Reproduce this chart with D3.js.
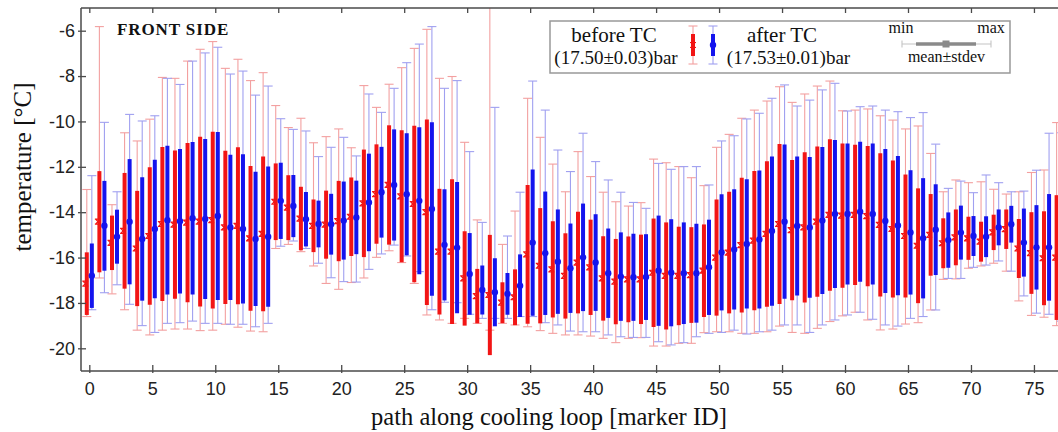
<!DOCTYPE html>
<html>
<head>
<meta charset="utf-8">
<script src="https://cdn.jsdelivr.net/npm/d3@7"></script>
<style>
  html, body { margin: 0; padding: 0; background: #fff; }
  svg { display: block; }
</style>
</head>
<body>
<svg id="chart" width="1058" height="432"></svg>
<script>
// ---------------- data ----------------
const markerIds = [0,1,2,3,4,5,6,7,8,9,10,11,12,13,14,15,16,17,18,19,20,21,22,23,24,25,26,27,28,29,30,31,32,33,34,35,36,37,38,39,40,41,42,43,44,45,46,47,48,49,50,51,52,53,54,55,56,57,58,59,60,61,62,63,64,65,66,67,68,69,70,71,72,73,74,75,76,77];

// before TC (red)
const beforeMean = [-17.15,-14.42,-15.35,-14.82,-15.6,-15.05,-14.52,-14.55,-14.46,-14.42,-14.35,-14.67,-14.6,-15.15,-14.96,-13.54,-13.8,-14.28,-14.6,-14.55,-14.39,-14.2,-13.61,-13.2,-12.8,-13.3,-13.64,-14.0,-15.74,-15.74,-16.92,-17.7,-17.65,-17.99,-17.75,-15.86,-16.36,-16.52,-16.81,-16.22,-16.43,-16.92,-17.06,-16.96,-16.96,-16.67,-16.81,-16.81,-16.77,-16.58,-16.0,-15.78,-15.45,-15.25,-14.96,-14.52,-14.79,-14.67,-14.42,-14.12,-14.15,-14.12,-14.17,-14.56,-14.74,-15.05,-15.48,-15.0,-15.37,-15.11,-15.15,-15.3,-14.89,-14.75,-15.6,-15.8,-16.03,-16.0];
const beforeStd = [1.38,2.23,1.2,2.55,2.54,3.03,3.39,3.27,3.51,3.74,3.9,3.38,3.46,3.19,3.41,1.69,1.43,1.4,1.16,1.5,1.77,1.73,2.37,2.19,2.63,2.91,3.45,4.09,2.77,3.19,2.08,1.2,2.65,0.9,1.23,3.06,2.54,2.12,1.88,2.24,2.1,1.86,1.88,1.89,1.97,2.39,2.36,2.17,2.11,2.04,2.56,2.68,2.97,3.07,3.21,3.53,3.09,3.31,3.31,3.34,3.18,3.09,3.09,3.16,3.02,2.71,2.53,1.8,1.1,1.23,0.95,0.88,0.78,0.87,1.3,1.8,2.07,2.75];
const beforeMin = [-18.6,-16.9,-17.6,-18.3,-19.2,-19.41,-19.2,-19.15,-19.15,-19.22,-19.2,-18.94,-19.07,-19.24,-19.27,-15.6,-15.42,-15.74,-16.37,-17.14,-17.4,-17.1,-16.9,-15.99,-15.7,-16.22,-17.14,-18.53,-18.75,-18.9,-18.68,-18.9,-19.2,-18.9,-18.97,-19.05,-19.22,-19.34,-19.41,-19.41,-19.46,-19.56,-19.75,-19.56,-19.53,-19.9,-19.9,-19.78,-19.78,-19.31,-19.27,-19.27,-19.34,-19.34,-19.27,-19.02,-19.3,-19.34,-19.12,-18.82,-18.57,-18.41,-18.75,-19.19,-19.15,-18.93,-18.87,-18.31,-16.96,-16.94,-16.47,-16.37,-16.25,-16.6,-17.91,-18.55,-18.63,-19.0];
const beforeMax = [-13.0,-5.82,-13.67,-10.5,-10.86,-9.9,-8.06,-8.1,-7.34,-6.82,-6.48,-7.66,-7.26,-8.2,-7.85,-9.3,-10.27,-9.86,-10.94,-10.67,-10.33,-11.16,-8.42,-9.38,-8.36,-7.63,-6.78,-5.94,-8.1,-8.02,-10.92,-14.34,-4.5,-15.42,-13.95,-8.98,-10.7,-11.88,-13.1,-11.33,-12.43,-13.12,-13.54,-13.73,-13.58,-11.66,-11.82,-11.99,-12.48,-12.83,-11.14,-10.57,-9.86,-9.5,-9.1,-8.47,-9.16,-8.79,-8.44,-8.22,-9.53,-9.5,-9.45,-9.75,-9.94,-10.33,-10.2,-11.41,-13.1,-12.58,-12.7,-12.66,-12.99,-13.2,-13.1,-12.25,-12.14,-10.05];

// after TC (blue)
const afterMean = [-16.8,-14.6,-15.08,-14.42,-15.18,-14.74,-14.35,-14.4,-14.27,-14.3,-14.17,-14.67,-14.74,-15.18,-15.08,-13.5,-13.73,-14.31,-14.52,-14.53,-14.37,-14.23,-13.57,-13.12,-12.8,-13.21,-13.5,-13.86,-15.44,-15.56,-16.72,-17.43,-17.53,-17.6,-17.24,-15.34,-15.81,-16.18,-16.47,-15.99,-16.22,-16.69,-16.84,-16.87,-16.86,-16.58,-16.67,-16.69,-16.69,-16.43,-15.77,-15.64,-15.4,-15.2,-14.83,-14.42,-14.61,-14.67,-14.37,-14.08,-14.08,-13.98,-14.08,-14.39,-14.59,-14.89,-15.15,-14.77,-15.23,-14.9,-15.05,-15.08,-14.67,-14.53,-15.34,-15.55,-15.55,-15.8];
const afterStd = [1.42,1.98,1.19,2.76,2.72,3.05,3.28,3.18,3.36,3.53,3.7,3.2,3.29,2.96,3.09,1.68,1.37,1.2,1.03,1.34,1.72,1.62,2.15,2.0,2.45,2.69,3.24,3.82,2.45,2.89,1.8,1.08,1.5,0.92,1.38,3.22,2.72,2.3,1.97,2.37,2.13,1.97,1.95,1.92,1.89,2.43,2.36,2.24,2.18,2.1,2.56,2.65,2.85,3.04,3.29,3.4,3.06,3.1,3.24,3.26,3.11,3.09,3.11,3.17,3.07,2.74,2.65,2.0,1.22,1.19,0.88,0.9,0.79,0.81,1.5,1.86,2.35,2.75];
const afterMin = [-18.3,-17.55,-17.2,-18.06,-19.0,-19.3,-18.9,-18.87,-18.8,-18.9,-18.9,-18.94,-18.94,-19.05,-18.9,-15.5,-15.27,-15.6,-16.25,-16.89,-17.06,-17.08,-16.52,-15.84,-15.45,-15.93,-16.62,-18.3,-17.97,-17.99,-18.5,-18.68,-18.68,-18.68,-18.6,-18.6,-18.87,-18.97,-19.24,-19.27,-19.27,-19.41,-19.49,-19.52,-19.52,-19.71,-19.85,-19.75,-19.49,-19.34,-19.3,-19.2,-19.37,-19.27,-19.2,-18.97,-18.97,-19.3,-18.97,-18.75,-18.53,-18.41,-18.72,-18.97,-19.02,-18.68,-18.6,-18.31,-16.92,-16.92,-16.43,-16.33,-16.15,-16.6,-17.69,-18.45,-18.5,-18.8];
const afterMax = [-12.39,-10.04,-13.1,-9.69,-9.98,-9.75,-8.1,-8.37,-7.34,-6.98,-6.73,-7.91,-7.78,-8.84,-8.44,-9.88,-10.35,-10.42,-11.55,-11.14,-10.7,-11.52,-8.79,-9.6,-8.54,-7.41,-6.59,-5.82,-8.54,-8.2,-11.33,-14.45,-9.38,-15.05,-13.12,-8.22,-9.5,-11.26,-12.21,-10.52,-11.77,-12.58,-13.12,-13.57,-13.83,-11.85,-12.11,-11.99,-11.99,-12.8,-10.86,-10.63,-9.89,-9.64,-8.98,-8.39,-9.32,-9.06,-8.61,-8.32,-9.54,-9.35,-9.32,-9.5,-9.57,-9.83,-9.61,-11.0,-12.95,-12.63,-13.14,-12.36,-12.7,-13.1,-13.07,-12.15,-10.52,-10.5];

const xTickValues = [0,5,10,15,20,25,30,35,40,45,50,55,60,65,70,75];
const yTickValues = [-20,-18,-16,-14,-12,-10,-8,-6];

const seriesNames = ["before TC", "after TC"];
const seriesPressure = ["(17.50\u00b10.03)bar", "(17.53\u00b10.01)bar"];

// ---------------- drawing ----------------
const svg = d3.select("#chart");
const plot = {left: 81, right: 1057, top: 8, bottom: 371};

const x = d3.scaleLinear().domain([-0.66, 76.83]).range([plot.left, plot.right]);
const y = d3.scaleLinear().domain([-21, -5]).range([plot.bottom, plot.top]);

const RED = "#f21515", BLUE = "#1414ee";
const RED_L = "#f3a0a0", BLUE_L = "#a0a0f0";
const AX = "#4a4a4a";

svg.append("defs").append("clipPath").attr("id", "clip")
  .append("rect").attr("x", plot.left).attr("y", plot.top)
  .attr("width", plot.right - plot.left + 2).attr("height", plot.bottom - plot.top);

const series = [
  {mean: beforeMean, std: beforeStd, min: beforeMin, max: beforeMax, off: -0.2, c: RED, cl: RED_L, kind: "x"},
  {mean: afterMean, std: afterStd, min: afterMin, max: afterMax, off: 0.2, c: BLUE, cl: BLUE_L, kind: "dot"}
];

const data = svg.append("g").attr("clip-path", "url(#clip)");
const capW = 4.5;

series.forEach(s => {
  const g = data.append("g");
  markerIds.forEach((id, i) => {
    const cx = x(id + s.off);
    g.append("line").attr("x1", cx).attr("x2", cx)
      .attr("y1", y(s.max[i])).attr("y2", y(s.min[i]))
      .attr("stroke", s.cl).attr("stroke-width", 1.1);
    g.append("line").attr("x1", cx - capW).attr("x2", cx + capW)
      .attr("y1", y(s.max[i])).attr("y2", y(s.max[i]))
      .attr("stroke", s.cl).attr("stroke-width", 1.1);
    g.append("line").attr("x1", cx - capW).attr("x2", cx + capW)
      .attr("y1", y(s.min[i])).attr("y2", y(s.min[i]))
      .attr("stroke", s.cl).attr("stroke-width", 1.1);
  });
});
series.forEach(s => {
  const g = data.append("g");
  markerIds.forEach((id, i) => {
    const cx = x(id + s.off);
    g.append("line").attr("x1", cx).attr("x2", cx)
      .attr("y1", y(s.mean[i] + s.std[i])).attr("y2", y(s.mean[i] - s.std[i]))
      .attr("stroke", s.c).attr("stroke-width", 4);
    const cy = y(s.mean[i]);
    if (s.kind === "dot") {
      g.append("circle").attr("cx", cx).attr("cy", cy).attr("r", 3.2).attr("fill", s.c);
    } else {
      g.append("path")
        .attr("d", `M${cx-4.5},${cy-2.5}H${cx+1.5}M${cx-4.5},${cy+2.5}H${cx+1.5}M${cx-3.8},${cy-2.5}L${cx+0.8},${cy+2.5}M${cx+0.8},${cy-2.5}L${cx-3.8},${cy+2.5}`)
        .attr("stroke", s.c).attr("stroke-width", 1.2).attr("fill", "none");
    }
  });
});

// axes
const yAxis = svg.append("g").attr("transform", `translate(${plot.left},0)`)
  .call(d3.axisLeft(y).tickValues(yTickValues).tickFormat(d3.format("d")).tickSizeInner(3).tickSizeOuter(0).tickPadding(3));
yAxis.select(".domain").attr("d", `M0,${plot.top}V${plot.bottom}`).attr("stroke", AX).attr("stroke-width", 1.5);
yAxis.selectAll(".tick line").attr("x1", 5).attr("stroke", AX).attr("stroke-width", 1.3);
yAxis.selectAll(".tick text").attr("font-family", "Liberation Sans, Arial, sans-serif").attr("font-size", 18).attr("fill", "#222")
  .text(d => String(d));

const xAxis = svg.append("g").attr("transform", `translate(0,${plot.bottom})`)
  .call(d3.axisBottom(x).tickValues(xTickValues).tickFormat(d3.format("d")).tickSizeInner(2).tickSizeOuter(0).tickPadding(9));
xAxis.select(".domain").attr("d", `M${plot.left},0H${plot.right+1}`).attr("stroke", AX).attr("stroke-width", 1.5);
xAxis.selectAll(".tick line").attr("y1", -6).attr("stroke", AX).attr("stroke-width", 1.3);
xAxis.selectAll(".tick text").attr("font-family", "Liberation Sans, Arial, sans-serif").attr("font-size", 18).attr("fill", "#222");

const xTop = svg.append("g").attr("transform", `translate(0,${plot.top})`)
  .call(d3.axisTop(x).tickValues(xTickValues).tickFormat("").tickSizeInner(-5).tickSizeOuter(0));
xTop.select(".domain").attr("d", `M${plot.left},0H${plot.right+1}`).attr("stroke", AX).attr("stroke-width", 1.5);
xTop.selectAll(".tick line").attr("stroke", AX).attr("stroke-width", 1.3);

// axis titles
svg.append("text").attr("transform", "translate(31,167) rotate(-90)")
  .attr("text-anchor", "middle").attr("font-family", "Liberation Serif, Times New Roman, serif")
  .attr("font-size", 25).attr("fill", "#111").text("temperature [\u00b0C]");
svg.append("text").attr("x", 549).attr("y", 425)
  .attr("text-anchor", "middle").attr("font-family", "Liberation Serif, Times New Roman, serif")
  .attr("font-size", 24.5).attr("fill", "#111").text("path along cooling loop [marker ID]");

svg.append("text").attr("x", 117).attr("y", 35)
  .attr("font-family", "Liberation Serif, Times New Roman, serif").attr("font-weight", "bold")
  .attr("font-size", 17).attr("letter-spacing", 0.9).attr("fill", "#111").text("FRONT SIDE");

// legend
const lg = svg.append("g");
lg.append("rect").attr("x", 550).attr("y", 21).attr("width", 460).attr("height", 52)
  .attr("fill", "#fff").attr("stroke", "#999").attr("stroke-width", 1.5);
const serif = "Liberation Serif, Times New Roman, serif";
[[614, 616], [782, 788.5]].forEach((p, k) => {
  lg.append("text").attr("x", p[0]).attr("y", 42).attr("text-anchor", "middle")
    .attr("font-family", serif).attr("font-size", 21).attr("fill", "#111").text(seriesNames[k]);
  lg.append("text").attr("x", p[1]).attr("y", 64).attr("text-anchor", "middle")
    .attr("font-family", serif).attr("font-size", 19).attr("fill", "#111").text(seriesPressure[k]);
});
[[693, RED, RED_L, "x"], [713, BLUE, BLUE_L, "dot"]].forEach(([cx, c, cl, kind]) => {
  lg.append("line").attr("x1", cx).attr("x2", cx).attr("y1", 26).attr("y2", 64).attr("stroke", cl).attr("stroke-width", 1.1);
  lg.append("line").attr("x1", cx - capW).attr("x2", cx + capW).attr("y1", 26).attr("y2", 26).attr("stroke", cl).attr("stroke-width", 1.1);
  lg.append("line").attr("x1", cx - capW).attr("x2", cx + capW).attr("y1", 64).attr("y2", 64).attr("stroke", cl).attr("stroke-width", 1.1);
  lg.append("line").attr("x1", cx).attr("x2", cx).attr("y1", 34).attr("y2", 56).attr("stroke", c).attr("stroke-width", 4);
  if (kind === "dot") lg.append("circle").attr("cx", cx).attr("cy", 45).attr("r", 3.2).attr("fill", c);
  else lg.append("path").attr("d", `M${cx-3},${42.5}H${cx+3}M${cx-3},${47.5}H${cx+3}M${cx-2.3},${42.5}L${cx+2.3},${47.5}M${cx+2.3},${42.5}L${cx-2.3},${47.5}`)
    .attr("stroke", c).attr("stroke-width", 1.1).attr("fill", "none");
});
lg.append("text").attr("x", 901).attr("y", 33).attr("text-anchor", "middle").attr("font-family", serif).attr("font-size", 16).attr("fill", "#111").text("min");
lg.append("text").attr("x", 991).attr("y", 33).attr("text-anchor", "middle").attr("font-family", serif).attr("font-size", 16).attr("fill", "#111").text("max");
lg.append("text").attr("x", 946.5).attr("y", 62).attr("text-anchor", "middle").attr("font-family", serif).attr("font-size", 16).attr("fill", "#111").text("mean\u00b1stdev");
lg.append("line").attr("x1", 902).attr("x2", 991).attr("y1", 44).attr("y2", 44).attr("stroke", "#c4c4c4").attr("stroke-width", 1.1);
lg.append("line").attr("x1", 902).attr("x2", 902).attr("y1", 40.5).attr("y2", 47.5).attr("stroke", "#c4c4c4").attr("stroke-width", 1.1);
lg.append("line").attr("x1", 991).attr("x2", 991).attr("y1", 40.5).attr("y2", 47.5).attr("stroke", "#c4c4c4").attr("stroke-width", 1.1);
lg.append("line").attr("x1", 916).attr("x2", 976).attr("y1", 44).attr("y2", 44).attr("stroke", "#8a8a8a").attr("stroke-width", 3.5);
lg.append("rect").attr("x", 942.5).attr("y", 40.5).attr("width", 7).attr("height", 7).attr("fill", "#8a8a8a");
</script>
</body>
</html>
